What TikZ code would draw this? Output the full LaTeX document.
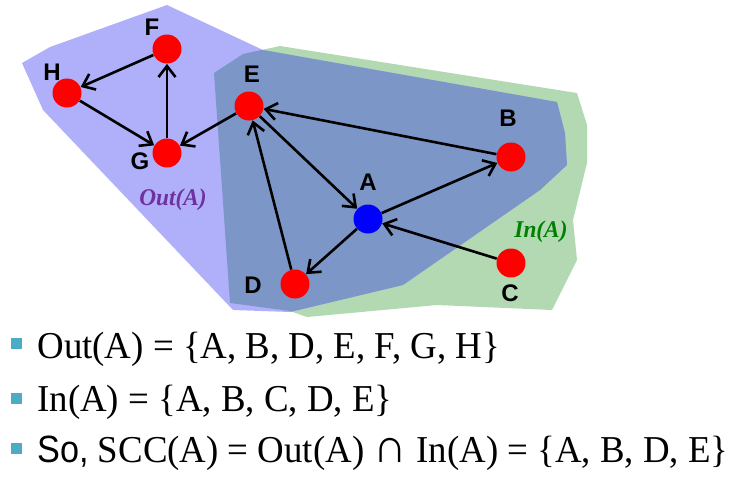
\documentclass[tikz,border=0pt]{standalone}
\usepackage{fontspec}
\setmainfont[FakeStretch=0.97]{Liberation Serif}
\setsansfont{Liberation Sans}
\newfontfamily\narrowsans[FakeStretch=0.9]{Liberation Sans}
\usetikzlibrary{arrows.meta}
\usetikzlibrary{positioning}
\definecolor{outfill}{RGB}{176,176,250}
\definecolor{infill}{RGB}{179,217,179}
\definecolor{bothfill}{RGB}{124,150,200}
\definecolor{outtext}{RGB}{112,48,160}
\definecolor{intext}{RGB}{0,128,0}
\definecolor{bulletc}{RGB}{75,172,198}
\tikzset{
  vert/.style={circle,fill=red,minimum size=14.5pt,inner sep=0pt},
  vlbl/.style={font=\sffamily\bfseries\fontsize{12}{12}\selectfont,inner sep=0pt},
  edge/.style={->,line width=1.3pt},
  setlbl/.style={font=\bfseries\itshape\fontsize{12}{12}\selectfont,inner sep=0pt},
  bullet/.style={fill=bulletc,minimum size=5.5pt,inner sep=0pt},
  line/.style={font=\fontsize{19}{19}\selectfont,inner sep=0pt,anchor=base west}
}
\begin{document}
\begin{tikzpicture}[x=0.5pt,y=-0.5pt,>={Straight Barb[length=5.5pt,width=8.5pt]}]
			\useasboundingbox (0,0) rectangle (734,479);
			% the two regions
			\def\inpath{(230,303)--(290,311)--(307,317)--(437,305)--(552,310)--(577,260)--(573,220)--(587,163)--(587,125)--(577,93)--(280,46)--(243,54)--(214,73)--cycle}
			\def\outpath{(22,63)--(50,47)--(167,5)--(263,50)--(557,102)--(565,133)--(567,165)--(540,190)--(403,285)--(290,312)--(233,310)--(43,110)--cycle}
			\fill[infill] \inpath;
			\fill[outfill] \outpath;
			\begin{scope}
				\clip \inpath;
				\fill[bothfill] \outpath;
			\end{scope}
			\node[setlbl,text=outtext] (outlbl) at (173,200) {Out(A)};
			\node[setlbl,text=intext] (inlbl) at (541,232) {In(A)};
			% vertices
			\node[vert] (F) at (167,49) {};
			\node[vert] (H) at (67,93) {};
			\node[vert] (G) at (167,153) {};
			\node[vert] (E) at (249,106) {};
			\node[vert] (D) at (295,284) {};
			\node[vert,fill=blue] (A) at (368,219) {};
			\node[vert] (B) at (511,157) {};
			\node[vert] (C) at (511,263) {};
			\node[vlbl] (Fl) at (152,27) {F};
			\node[vlbl] (Hl) at (52,72) {H};
			\node[vlbl] (Gl) at (140,161) {G};
			\node[vlbl] (El) at (252,74) {E};
			\node[vlbl] (Dl) at (253,285) {D};
			\node[vlbl] (Al) at (368,182) {A};
			\node[vlbl] (Bl) at (508,118) {B};
			\node[vlbl] (Cl) at (510,293) {C};
			% edges
			\draw[edge] (F)--(H);
			\draw[edge] (H)--(G);
			\draw[edge] (G)--(F);
			\draw[edge] (E)--(G);
			\draw[edge] (E)--(A);
			\draw[edge] (B)--(E);
			\draw[edge] (D)--(E);
			\draw[edge] (A)--(D);
			\draw[edge] (A)--(B);
			\draw[edge] (C)--(A);
			% the three lines below
			\node[bullet] (b1) at (16,343) {};
			\node[bullet] (b2) at (16,398) {};
			\node[bullet] (b3) at (16,448) {};
			\node[line] (t1) at (37,358) {Out(A) = \{A, B, D, E, F, G, H\}};
			\node[line] (t2) at (37,411) {In(A) = \{A, B, C, D, E\}};
			\node[line] (t3) at (37,462) {{\narrowsans So,} SCC(A) = Out(A) {\fontsize{24}{24}\selectfont ∩} In(A) = \{A, B, D, E\}};
		\end{tikzpicture}
\end{document}
